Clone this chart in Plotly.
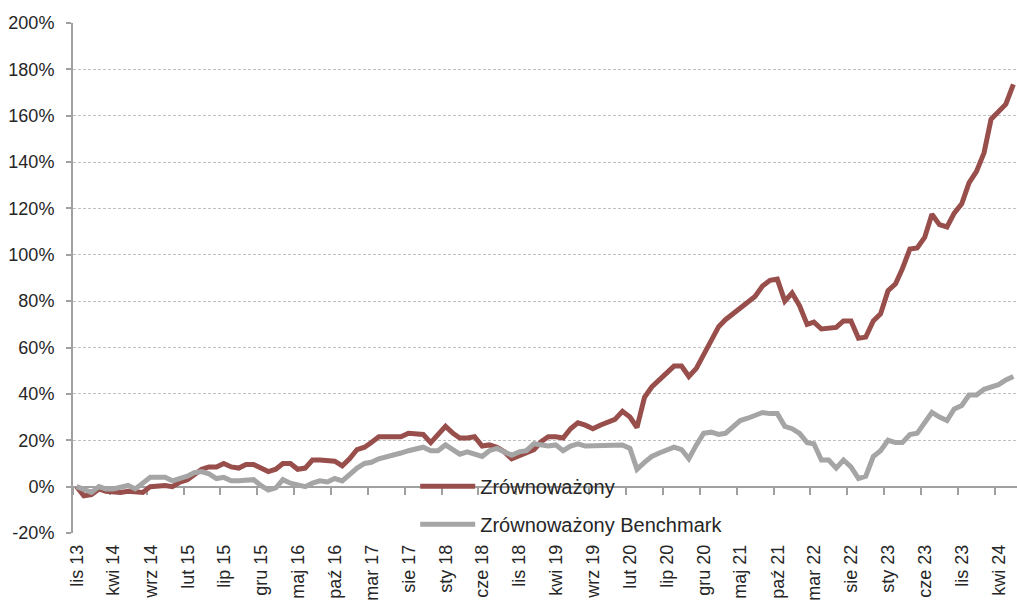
import pandas as pd
import plotly.graph_objects as go

# monthly cumulative return, Nov 2013 - Jun 2024 (%)
zrownowazony = [
    0, -4, -3.5, -1, -2, -2.5, -2.5, -2, -2.5, -2.5,
    0, 0.5, 0.5, 0, 2, 3, 5, 7.5, 8.5, 8.5,
    10, 8.5, 8, 9.5, 9.5, 8, 6.5, 7.5, 10, 10,
    7.5, 8, 11.5, 11.5, 11, 11, 9, 12, 16, 17,
    19, 21.5, 21.5, 21.5, 21.5, 23, 22.5, 22.5, 19, 22.5,
    26, 23, 21, 21, 21.5, 17.5, 18, 17, 15, 12,
    13.5, 14.5, 16, 19.5, 21.5, 21.5, 21, 25, 27.5, 26.5,
    25, 26.5, 27.5, 29, 32.5, 30, 25.5, 38.5, 43, 46,
    49.5, 52, 52, 47.5, 51, 57, 63, 69, 72, 74.5,
    77, 79.5, 82, 86.5, 89, 89.5, 80, 83.5, 78, 70,
    71, 68, 68.5, 68.7, 71.5, 71.5, 64, 64.5, 71.5, 74.5,
    84.5, 87.5, 94, 102.5, 103, 107.5, 117.5, 113, 112, 118,
    122, 131, 136, 144, 158.5, 161.5, 165, 173.5,
]
benchmark = [
    0, -1.5, -2.5, 0, -1, -1, 0, 0.5, -1, 1.5,
    4, 4, 4, 2.5, 3.5, 4.5, 6, 6.5, 5.5, 3.5,
    4, 2.5, 2.5, 2.5, 3, 0.5, -1.5, -0.5, 3, 1.5,
    0.5, 0, 1.5, 2.5, 2, 3.5, 2.5, 5.5, 8, 10,
    10.5, 12, 13, 13.5, 14.5, 15.5, 16.5, 17, 15.5, 15.5,
    18, 16, 14, 15, 14, 13, 15.5, 16.5, 15, 13.5,
    15, 15.5, 18.5, 18, 17.5, 18, 15.5, 17.5, 18.5, 17.5,
    17.5, 17.5, 18, 18, 18, 16.5, 7.5, 10.5, 13, 14.5,
    15.5, 17, 16, 12, 18, 23, 23.5, 22.5, 23, 25.5,
    28.5, 29.5, 30.5, 32, 31.5, 31.5, 26, 25, 23, 19,
    18.5, 11.5, 11.5, 8, 11.5, 8.5, 3.5, 4.5, 13, 15.5,
    20, 19, 19, 22.5, 23, 27.5, 32, 30, 28.5, 33.5,
    35, 39.5, 39.5, 42, 43, 44, 46, 47.5,
]
tick_labels = [
    "lis 13", "kwi 14", "wrz 14", "lut 15", "lip 15", "gru 15", "maj 16",
    "paź 16", "mar 17", "sie 17", "sty 18", "cze 18", "lis 18", "kwi 19",
    "wrz 19", "lut 20", "lip 20", "gru 20", "maj 21", "paź 21", "mar 22",
    "sie 22", "sty 23", "cze 23", "lis 23", "kwi 24",
]
y_ticks = list(range(-20, 201, 20))

months = pd.date_range("2013-11-01", periods=len(zrownowazony), freq="MS")
half = pd.Timedelta(days=15)
# excel-style: ticks sit between categories, labels on the category
tick_pos = [months[i] - half for i in range(0, len(months), 5)]

font = dict(family="Liberation Sans", size=18, color="#262626")

fig = go.Figure()
fig.add_trace(go.Scatter(
    x=months, y=zrownowazony, name="Zrównoważony", mode="lines",
    line=dict(color="#984E4B", width=5), legendgroup="a",
))
fig.add_trace(go.Scatter(
    x=months, y=benchmark, name="Zrównoważony Benchmark", mode="lines",
    line=dict(color="#A5A5A5", width=5), legendgroup="b",
))

fig.update_layout(
    width=1017, height=607,
    margin=dict(l=73, r=0, t=23, b=74),
    paper_bgcolor="white", plot_bgcolor="white",
    font=font,
    showlegend=True,
    legend=dict(
        x=0.3625, y=0.13, xanchor="left", yanchor="top",
        bgcolor="rgba(0,0,0,0)", font=dict(font, size=20),
        traceorder="grouped", tracegroupgap=9, itemwidth=55,
    ),
    xaxis=dict(
        range=[months[0] - half, months[-1] + half],
        anchor="free", position=20 / 220, automargin=False,
        tickmode="array", tickvals=tick_pos, ticktext=tick_labels,
        tickangle=-90, ticks="outside", ticklen=7, tickwidth=1.5,
        tickcolor="#A0A0A0", showline=True, linecolor="#A0A0A0", linewidth=2,
        showgrid=False, zeroline=False,
        ticklabelshift=4, ticklabelstandoff=43,
        layer="below traces",
    ),
    yaxis=dict(
        range=[-20, 200], automargin=False,
        tickmode="array", tickvals=y_ticks,
        ticktext=[f"{v}%" for v in y_ticks],
        ticks="outside", ticklen=5, tickwidth=1.5, tickcolor="#A0A0A0",
        showline=True, linecolor="#A0A0A0", linewidth=2,
        showgrid=True, gridcolor="#C0C0C0", gridwidth=1, griddash="3px,2px",
        zeroline=False, ticklabelstandoff=8,
    ),
)

fig.write_html(
    "out.html",
    config={"displayModeBar": False},
    post_script="document.body.style.margin='0';document.body.style.overflow='hidden';",
)
